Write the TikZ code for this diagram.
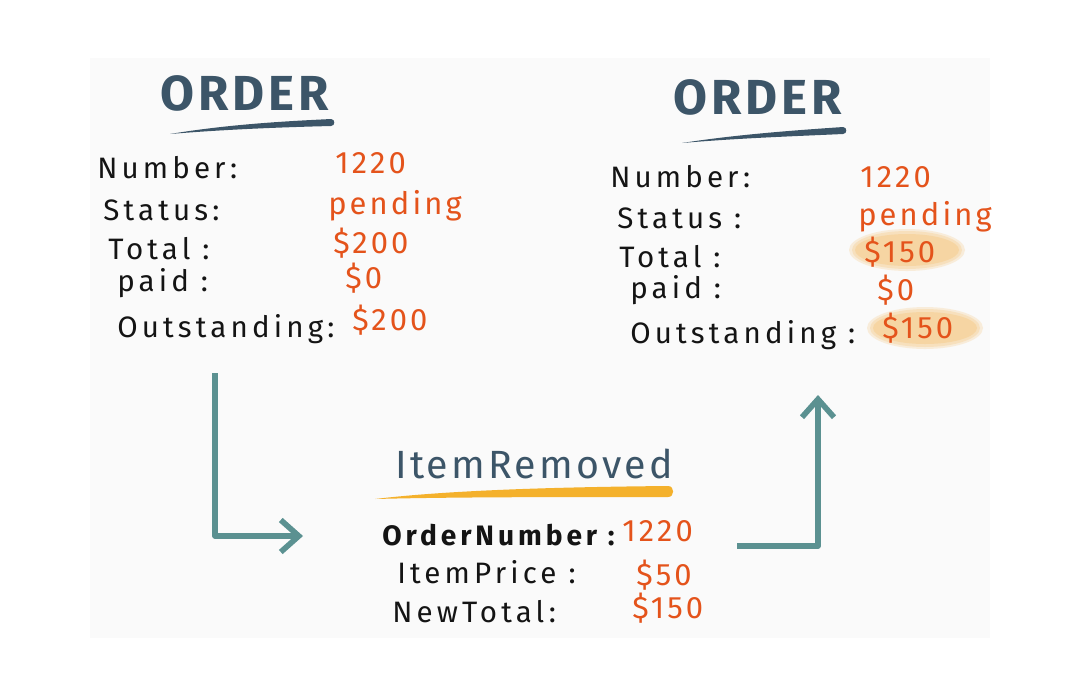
\documentclass[tikz,border=0pt]{standalone}
\usepackage{fontspec}
\setmainfont{Fira Sans}
\newfontfamily\handfont[LetterSpace=14]{Fira Sans}
\newfontfamily\valfont[LetterSpace=10]{Fira Sans}
\newfontfamily\titlefont[LetterSpace=8]{Fira Sans}
\usepackage{xcolor}
\usepackage{tikz}
\usetikzlibrary{arrows.meta}

\definecolor{panel}{HTML}{FAFAFA}
\definecolor{slate}{HTML}{3C5568}
\definecolor{valred}{HTML}{E4531B}
\definecolor{flowteal}{HTML}{5B9191}
\definecolor{marker}{HTML}{F4B12C}
\definecolor{hilite}{HTML}{F6C67C}
\definecolor{ink}{HTML}{141414}

\begin{document}
\begin{tikzpicture}[x=0.25mm, y=-0.25mm,
  lbl/.style={anchor=base west, inner sep=0pt, text=ink,
              font=\handfont\fontsize{21}{25}\selectfont},
  evlbl/.style={lbl, font=\handfont\bfseries\fontsize{20}{24}\selectfont},
  val/.style={anchor=base west, inner sep=0pt, text=valred,
              font=\valfont\fontsize{22}{26}\selectfont},
  ttl/.style={anchor=base west, inner sep=0pt, text=slate,
              font=\titlefont\bfseries\fontsize{35}{40}\selectfont},
  evttl/.style={anchor=base west, inner sep=0pt, text=slate,
              font=\titlefont\fontsize{28}{32}\selectfont},
  glow/.style={fill=hilite, opacity=#1},
  flow/.style={draw=flowteal, line width=1.4mm, line join=round,
               -{Straight Barb[length=4.5mm, width=8mm]}}
]
\fill[white] (0,0) rectangle (1080,698);
\fill[panel] (90,58) rectangle (990,638);

% order before
\node[ttl] (l-title) at (160,110) {ORDER};
\fill[slate] (170,134) .. controls (230,124) and (290,121) .. (331,119)
  to[out=0, in=0, looseness=1.6] (331,126)
  .. controls (290,127) and (230,129) .. (170,134) -- cycle;
\node[lbl] (l-num)  at (97,178)  {Number:};
\node[lbl] (l-stat) at (103,220) {Status:};
\node[lbl] (l-tot)  at (108,259) {Total :};
\node[lbl] (l-paid) at (117,291) {paid :};
\node[lbl] (l-out)  at (117,337) {Outstanding:};
\node[val] (l-num-v)  at (335,173) {1220};
\node[val] (l-stat-v) at (328,214) {pending};
\node[val] (l-tot-v)  at (333,253) {\$200};
\node[val] (l-paid-v) at (345,288) {\$0};
\node[val] (l-out-v)  at (352,330) {\$200};

% order after
\node[ttl] (r-title) at (673,114) {ORDER};
\fill[slate] (682,143) .. controls (740,134) and (800,130) .. (843,127)
  to[out=0, in=0, looseness=1.6] (843,134)
  .. controls (800,136) and (740,138) .. (682,143) -- cycle;
\foreach \rx/\ry/\op in {58/21/.25, 55/19/.3, 52/16/.4} {
  \fill[glow=\op] (907,250) ellipse [x radius=\rx, y radius=\ry];
  \fill[glow=\op] (925,328) ellipse [x radius=\rx, y radius=\ry];
}
\node[lbl] (r-num)  at (610,187) {Number:};
\node[lbl] (r-stat) at (617,228) {Status :};
\node[lbl] (r-tot)  at (619,267) {Total :};
\node[lbl] (r-paid) at (630,298) {paid :};
\node[lbl] (r-out)  at (630,343) {Outstanding :};
\node[val] (r-num-v)  at (860,187) {1220};
\node[val] (r-stat-v) at (858,225) {pending};
\node[val] (r-tot-v)  at (864,262) {\$150};
\node[val] (r-paid-v) at (877,300) {\$0};
\node[val] (r-out-v)  at (882,338) {\$150};

% the event
\node[evttl] (ev-title) at (395,478) {ItemRemoved};
\fill[marker] (375,499) .. controls (450,490) and (560,487) .. (668,486)
  to[out=0, in=0, looseness=1.6] (668,497)
  .. controls (560,497) and (450,497) .. (375,499) -- cycle;
\node[evlbl] (ev-num)   at (382,545) {OrderNumber :};
\node[lbl]   (ev-price) at (397,583) {ItemPrice :};
\node[lbl]   (ev-tot)   at (392,622) {NewTotal:};
\node[val] (ev-num-v)   at (622,541) {1220};
\node[val] (ev-price-v) at (636,585) {\$50};
\node[val] (ev-tot-v)   at (632,618) {\$150};

% connectors
\coordinate (l-exit) at (215,373);
\coordinate (ev-in) at (303,536);
\coordinate (ev-exit) at (737,546);
\coordinate (r-in) at (818,395);
\draw[flow] (l-exit) |- (ev-in);
\draw[flow] (ev-exit) -| (r-in);
\end{tikzpicture}
\end{document}
